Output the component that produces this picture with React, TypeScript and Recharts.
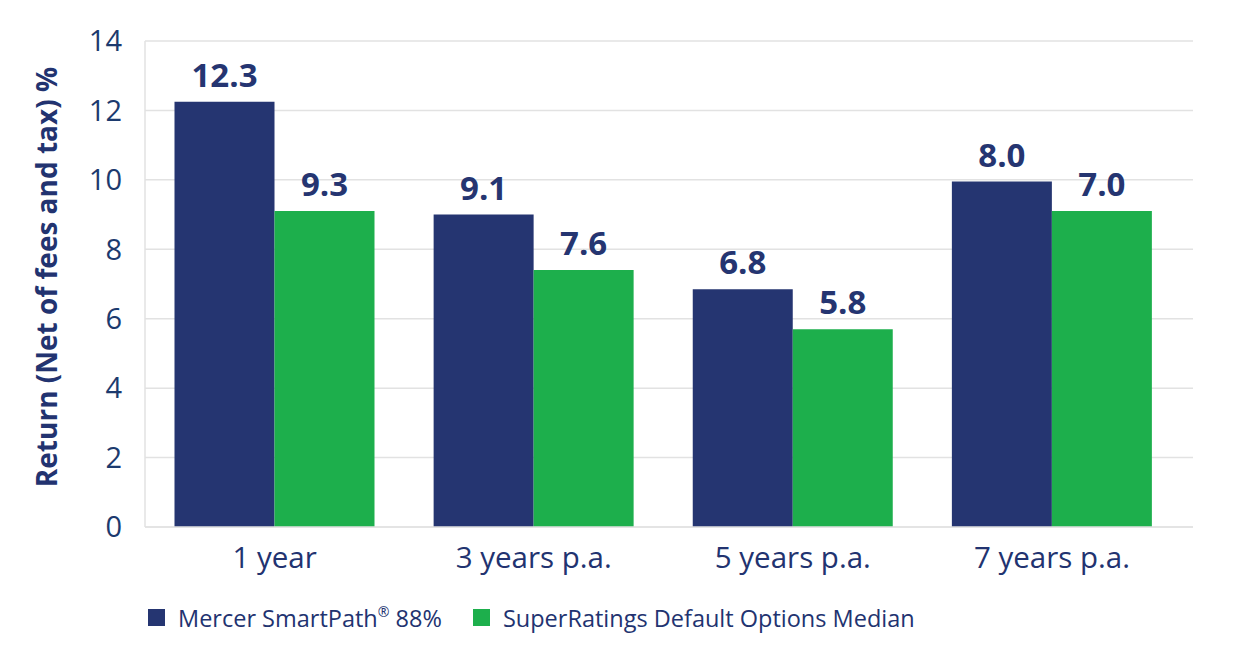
import React from "react";
import {
  BarChart,
  Bar,
  XAxis,
  YAxis,
  CartesianGrid,
  Legend,
  LabelList,
} from "recharts";

const categories = ["1 year", "3 years p.a.", "5 years p.a.", "7 years p.a."];
// bar heights as drawn in the picture
const smartPath = [12.25, 9.0, 6.85, 9.95];
const median = [9.1, 7.4, 5.7, 9.1];
// value labels printed above the bars
const smartPathLabels = ["12.3", "9.1", "6.8", "8.0"];
const medianLabels = ["9.3", "7.6", "5.8", "7.0"];
const yTicks = [0, 2, 4, 6, 8, 10, 12, 14];

const NAVY = "#253571";
const GREEN = "#1daf4c";
const TEXT = "#223370";
const GRID = "#e2e2e2";
const FONT = "'Open Sans', sans-serif";

const data = categories.map((category, i) => ({
  category,
  smartPath: smartPath[i],
  median: median[i],
  smartPathLabel: smartPathLabels[i],
  medianLabel: medianLabels[i],
}));

const series = [
  { name: "Mercer SmartPath", mark: "\u00ae", tail: " 88%", color: NAVY },
  { name: "SuperRatings Default Options Median", mark: "", tail: "", color: GREEN },
];

const LegendContent = () => (
  <div
    style={{
      height: 68,
      paddingBottom: 7,
      paddingLeft: 148,
      boxSizing: "border-box",
      display: "flex",
      alignItems: "center",
      fontFamily: FONT,
      fontSize: 23.5,
      color: TEXT,
    }}
  >
    {series.map((s, i) => (
      <div
        key={s.name}
        style={{ display: "flex", alignItems: "center", marginRight: i === 0 ? 31 : 0 }}
      >
        <span
          style={{ width: 17, height: 17, background: s.color, marginRight: 13, display: "inline-block" }}
        />
        <span>
          {s.name}
          {s.mark && (
            <span style={{ fontSize: "0.6em", verticalAlign: "0.7em" }}>{s.mark}</span>
          )}
          {s.tail}
        </span>
      </div>
    ))}
  </div>
);

const YLabel = () => (
  <text
    x={57}
    y={277}
    transform="rotate(-90, 57, 277)"
    textAnchor="middle"
    fill={TEXT}
    fontFamily={FONT}
    fontSize={28}
    fontWeight={700}
  >
    Return (Net of fees and tax) %
  </text>
);

export default function App() {
  return (
    <div style={{ position: "absolute", left: 0, top: 0, background: "#fff" }}>
      <BarChart
        width={1250}
        height={655}
        data={data}
        margin={{ top: 41, right: 57, bottom: 0, left: 0 }}
        barCategoryGap={29.5}
        barGap={0}
      >
        <CartesianGrid vertical={false} stroke={GRID} strokeWidth={1.5} />
        <XAxis
          dataKey="category"
          height={60}
          padding={{ left: 0, right: 11.5 }}
          tickLine={false}
          axisLine={{ stroke: GRID, strokeWidth: 1.5 }}
          tickMargin={14}
          tick={{ fill: TEXT, fontSize: 29.5, fontFamily: FONT }}
        />
        <YAxis
          width={145}
          domain={[0, 14]}
          ticks={yTicks}
          tickLine={false}
          axisLine={{ stroke: GRID, strokeWidth: 1.5 }}
          tickMargin={17}
          tick={{ fill: "#1c3a6e", fontSize: 29, fontFamily: FONT }}
          label={<YLabel />}
        />
        <Legend verticalAlign="bottom" align="left" content={<LegendContent />} wrapperStyle={{ left: 0, width: 1250 }} />
        <Bar dataKey="smartPath" name="Mercer SmartPath® 88%" fill={NAVY} isAnimationActive={false}>
          <LabelList
            dataKey="smartPathLabel"
            position="top"
            offset={15}
            fill={NAVY}
            fontSize={33}
            fontWeight={700}
            fontFamily={FONT}
          />
        </Bar>
        <Bar dataKey="median" name="SuperRatings Default Options Median" fill={GREEN} isAnimationActive={false}>
          <LabelList
            dataKey="medianLabel"
            position="top"
            offset={15}
            fill={NAVY}
            fontSize={33}
            fontWeight={700}
            fontFamily={FONT}
          />
        </Bar>
      </BarChart>
    </div>
  );
}
